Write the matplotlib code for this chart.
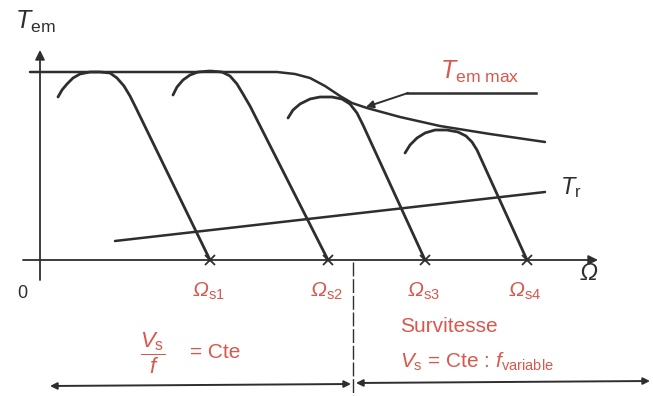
import numpy as np
import matplotlib.pyplot as plt

plt.rcParams['font.family'] = ['Liberation Sans', 'DejaVu Sans']
plt.rcParams['mathtext.fontset'] = 'custom'
plt.rcParams['mathtext.rm'] = 'Liberation Sans'
plt.rcParams['mathtext.it'] = 'Liberation Sans:italic'
plt.rcParams['mathtext.bf'] = 'Liberation Sans:bold'
# italic capital Greek (mathtext keeps \Omega upright in 'it')
plt.rcParams['mathtext.sf'] = 'Liberation Sans:italic'

# synchronous speeds on the speed axis
omega_s = [210, 328, 425, 527]
omega_labels = ['s1', 's2', 's3', 's4']
axis_y = 260

# torque/speed curves, rising part and knee (the straight part ends at omega_s)
c1_x = [58, 62, 67, 73, 80, 90, 100, 110, 117, 124, 130, 136]
c1_y = [97, 90, 84, 78, 74, 72, 72, 73, 78, 86, 96, 108]
c2_x = [173, 177, 183, 190, 198, 210, 222, 230, 237, 243, 250]
c2_y = [95, 87, 80, 75, 72, 71, 72, 76, 84, 94, 106]
c3_x = [288, 293, 300, 310, 320, 332, 342, 350, 357, 363]
c3_y = [118, 110, 104, 99, 97, 97, 99, 104, 113, 125]
c4_x = [405, 410, 417, 425, 435, 447, 458, 466, 472, 477]
c4_y = [153, 145, 138, 133, 130, 130, 132, 136, 142, 150]
curves = [(c1_x, c1_y), (c2_x, c2_y), (c3_x, c3_y), (c4_x, c4_y)]

# maximum torque envelope
tmax_x = [30, 277, 295, 310, 325, 340, 352, 367, 400, 440, 490, 545]
tmax_y = [72, 72, 74, 78, 86, 96, 103, 108, 117, 126, 134, 142]

# load torque
tr_x = [115, 545]
tr_y = [241, 192]

red = '#d9574c'
ink = '#2e2e2e'

fig = plt.figure(figsize=(6.53, 3.96), dpi=100)
ax = fig.add_axes([0, 0, 1, 1])
ax.set_xlim(0, 653)
ax.set_ylim(396, 0)
ax.axis('off')

# axes with arrows
ax.annotate('', xy=(598, axis_y), xytext=(23, axis_y),
            arrowprops=dict(arrowstyle='-|>', color=ink, lw=1.3,
                            mutation_scale=14, shrinkA=0, shrinkB=0))
ax.annotate('', xy=(40, 50), xytext=(40, 280),
            arrowprops=dict(arrowstyle='-|>', color=ink, lw=1.3,
                            mutation_scale=14, shrinkA=0, shrinkB=0))

ax.plot(tmax_x, tmax_y, color=ink, lw=1.8, solid_capstyle='round')
ax.plot(tr_x, tr_y, color=ink, lw=1.8, solid_capstyle='round')

for (cx, cy), ws in zip(curves, omega_s):
    ax.plot(cx + [ws], cy + [axis_y], color=ink, lw=2.0,
            solid_capstyle='round', solid_joinstyle='round')
    ax.plot(ws, axis_y, marker='x', ms=7, mew=1.3, color=ink)

for ws, lab in zip(omega_s, omega_labels):
    ax.text(ws - 2, 291, r'$\mathsf{\Omega}_{\rm ' + lab + '}$', color=red,
            fontsize=15, ha='center', va='center')

# labels
ax.text(15, 22, r'$T_{\rm em}$', fontsize=18, color=ink, ha='left', va='center')
ax.text(589, 274, r'$\mathsf{\Omega}$', fontsize=17, color=ink,
        ha='center', va='center')
ax.text(22, 293, '0', fontsize=13, color=ink, ha='center', va='center')
ax.text(560, 188, r'$T_{\rm r}$', fontsize=17, color=ink, ha='left', va='center')
ax.text(440, 72, r'$T_{\rm em\ max}$', fontsize=18, color=red,
        ha='left', va='center')

# pointer to the envelope
ax.plot([407, 536], [93, 93], color=ink, lw=1.8)
ax.annotate('', xy=(366, 107), xytext=(408, 93),
            arrowprops=dict(arrowstyle='-|>', color=ink, lw=1.4,
                            mutation_scale=11, shrinkA=0, shrinkB=0))

# operating zones
ax.plot([353, 353], [262, 396], color=ink, lw=1.0, ls=(0, (10, 2)))
ax.text(153, 353, r'$\dfrac{V_{\rm s}}{f}$', fontsize=16, color=red,
        ha='center', va='center')
ax.text(190, 353, '= Cte', fontsize=15, color=red, ha='left', va='center')
ax.text(400, 326, 'Survitesse', fontsize=15, color=red, ha='left', va='center')
ax.text(400, 362, r'$V_{\rm s}$ = Cte : $f_{\rm variable}$', fontsize=15,
        color=red, ha='left', va='center')

ax.annotate('', xy=(50, 386), xytext=(351, 384),
            arrowprops=dict(arrowstyle='<|-|>', color=ink, lw=1.4,
                            mutation_scale=10, shrinkA=0, shrinkB=0))
ax.annotate('', xy=(356, 383), xytext=(650, 381),
            arrowprops=dict(arrowstyle='<|-|>', color=ink, lw=1.4,
                            mutation_scale=10, shrinkA=0, shrinkB=0))

fig.savefig('out.png', dpi=100)
